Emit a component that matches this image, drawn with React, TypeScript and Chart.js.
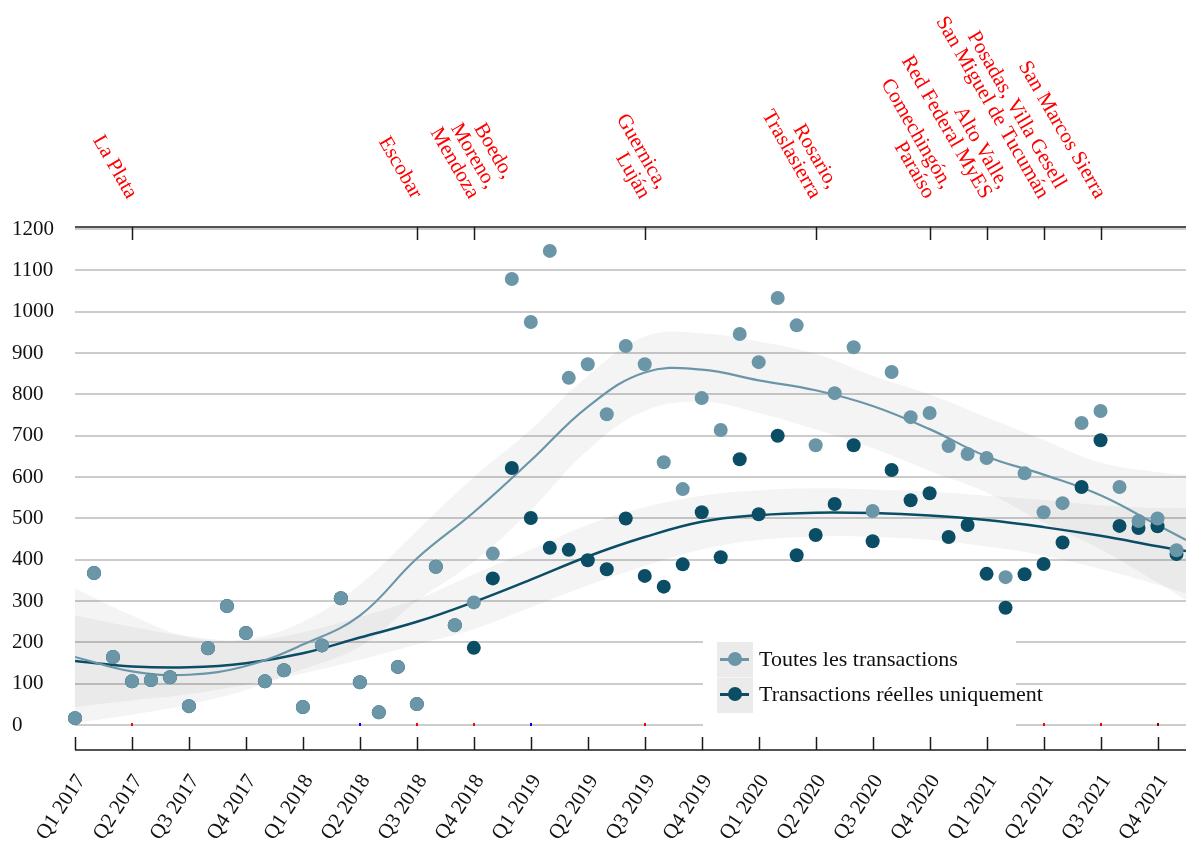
import React, { useEffect, useRef } from 'react';
import { Chart, registerables } from 'chart.js';

Chart.register(...registerables);

// Months shown (Jan 2017 .. Nov 2021); x position = index in this list
const monthLabels = [
  '2017-01', '2017-02', '2017-03', '2017-04', '2017-05', '2017-06', '2017-07', '2017-08', '2017-09', '2017-10', '2017-11', '2017-12',
  '2018-01', '2018-02', '2018-03', '2018-04', '2018-05', '2018-06', '2018-07', '2018-08', '2018-09', '2018-10', '2018-11', '2018-12',
  '2019-01', '2019-02', '2019-03', '2019-04', '2019-05', '2019-06', '2019-07', '2019-08', '2019-09', '2019-10', '2019-11', '2019-12',
  '2020-01', '2020-02', '2020-03', '2020-04', '2020-05', '2020-06', '2020-07', '2020-08', '2020-09', '2020-10', '2020-11', '2020-12',
  '2021-01', '2021-02', '2021-03', '2021-04', '2021-05', '2021-06', '2021-07', '2021-08', '2021-09', '2021-10', '2021-11',
];

const allTransactions = [
  17, 368, 165, 106, 109, 116, 46, 186, 288, 223, 106, 133,
  44, 193, 307, 104, 31, 141, 51, 383, 242, 297, 415, 1079,
  975, 1147, 840, 873, 752, 917, 873, 636, 571, 791, 714, 946,
  878, 1033, 967, 677, 803, 914, 518, 854, 745, 755, 675, 656,
  646, 358, 609, 515, 537, 731, 760, 576, 494, 500, 423,
];

const realTransactions = [
  17, 368, 165, 106, 109, 116, 46, 186, 288, 223, 106, 133,
  44, 193, 307, 104, 31, 141, 51, 383, 242, 187, 355, 622,
  501, 429, 424, 399, 377, 500, 361, 335, 389, 515, 406, 643,
  510, 700, 411, 460, 535, 677, 445, 617, 544, 561, 455, 484,
  366, 284, 365, 390, 442, 576, 689, 482, 477, 481, 414,
];

// Smoothed trend (LOESS-like), with confidence bands
const curveMonths = [0, 3, 6, 9, 12, 15, 18, 21, 24, 27, 30, 33, 36, 39, 42, 45, 48, 51, 54, 57, 58.5];
const allCurve = [165, 130, 122, 143, 195, 265, 403, 515, 640, 770, 853, 860, 834, 810, 772, 716, 650, 606, 556, 484, 448];
const allUpper = [331, 265, 213, 208, 250, 340, 470, 600, 715, 845, 940, 948, 928, 898, 845, 800, 745, 690, 635, 612, 605];
const allLower = [5, 25, 50, 85, 135, 190, 300, 395, 520, 665, 760, 782, 755, 715, 670, 615, 563, 490, 425, 345, 302];
const realCurve = [155, 142, 140, 150, 174, 212, 250, 298, 352, 408, 455, 492, 508, 514, 513, 507, 496, 479, 458, 433, 421];
const realUpper = [266, 238, 215, 205, 225, 262, 305, 365, 425, 485, 527, 555, 568, 573, 570, 565, 555, 545, 532, 525, 525];
const realLower = [44, 60, 75, 98, 125, 158, 195, 232, 285, 338, 385, 425, 448, 456, 455, 448, 432, 410, 378, 340, 318];

// Axis ticks
const quarterMonths = [0, 3, 6, 9, 12, 15, 18, 21, 24, 27, 30, 33, 36, 39, 42, 45, 48, 51, 54, 57];
const quarterLabels = [
  'Q1 2017', 'Q2 2017', 'Q3 2017', 'Q4 2017', 'Q1 2018', 'Q2 2018', 'Q3 2018', 'Q4 2018',
  'Q1 2019', 'Q2 2019', 'Q3 2019', 'Q4 2019', 'Q1 2020', 'Q2 2020', 'Q3 2020', 'Q4 2020',
  'Q1 2021', 'Q2 2021', 'Q3 2021', 'Q4 2021',
];
const yTicks = [0, 100, 200, 300, 400, 500, 600, 700, 800, 900, 1000, 1100, 1200];

// Event annotations along the top
const eventMonths = [3, 18, 21, 30, 39, 45, 48, 51, 54];
const eventLabels = [
  ['La Plata'],
  ['Escobar'],
  ['Boedo,', 'Moreno,', 'Mendoza'],
  ['Guernica,', 'Luján'],
  ['Rosario,', 'Traslasierra'],
  ['Comechingón,', 'Paraíso'],
  ['Alto Valle,', 'Red Federal MyES'],
  ['Posadas, Villa Gesell', 'San Miguel de Tucumán'],
  ['San Marcos Sierra'],
];

// Small markers on the zero line
const markerMonths = [3, 15, 18, 21, 24, 30, 39, 45, 48, 51, 54, 57];
const markerColors = ['#ff0000', '#0000ff', '#ff0000', '#ff0000', '#0000ff', '#ff0000', '#ff0000', '#ff0000', '#ff0000', '#ff0000', '#ff0000', '#990000'];

const LIGHT = '#6a96a8';
const DARK = '#0a4d64';
const BAND = 'rgba(0,0,0,0.045)';
const FONT = '"Liberation Serif", "Times New Roman", serif';

const decorPlugin = {
  id: 'decor',
  beforeDatasetsDraw(chart: any) {
    const { ctx, scales } = chart;
    const x = scales.x;
    const y = scales.y;
    const y0 = y.getPixelForValue(0);
    ctx.save();
    markerMonths.forEach((m, i) => {
      const px = Math.round(x.getPixelForValue(m));
      ctx.fillStyle = markerColors[i];
      ctx.fillRect(px - 1, Math.round(y0) - 2, 2, 3);
    });
    ctx.restore();
  },
  afterDraw(chart: any) {
    const { ctx, chartArea, scales } = chart;
    const x = scales.x;
    const top = chartArea.top;
    const bottom = chartArea.bottom;
    ctx.save();
    ctx.strokeStyle = '#1a1a1a';
    ctx.lineWidth = 1.5;
    // top axis
    ctx.beginPath();
    ctx.moveTo(chartArea.left, top - 2);
    ctx.lineTo(chartArea.right, top - 2);
    ctx.stroke();
    eventMonths.forEach((m) => {
      const px = Math.round(x.getPixelForValue(m)) + 0.5;
      ctx.beginPath();
      ctx.moveTo(px, top - 2);
      ctx.lineTo(px, top + 11);
      ctx.stroke();
    });
    // bottom axis
    ctx.beginPath();
    ctx.moveTo(chartArea.left, bottom);
    ctx.lineTo(chartArea.right, bottom);
    ctx.stroke();
    quarterMonths.forEach((m) => {
      const px = Math.round(x.getPixelForValue(m)) + 0.5;
      ctx.beginPath();
      ctx.moveTo(px, bottom - 13);
      ctx.lineTo(px, bottom);
      ctx.stroke();
    });
    // annotations
    ctx.fillStyle = '#ff0000';
    ctx.font = `21px ${FONT}`;
    ctx.textAlign = 'right';
    ctx.textBaseline = 'middle';
    const lineH = 20;
    eventMonths.forEach((m, i) => {
      const px = x.getPixelForValue(m);
      const lines = eventLabels[i];
      ctx.save();
      ctx.translate(px + 0, 197);
      ctx.rotate((60 * Math.PI) / 180);
      const n = lines.length;
      lines.forEach((ln, k) => {
        ctx.fillText(ln, 0, -(n - 1 - k) * lineH);
      });
      ctx.restore();
    });
    ctx.restore();
  },
};

function pts(xs: number[], ys: number[]) {
  return xs.map((v, i) => ({ x: v, y: ys[i] }));
}

export default function App() {
  const canvasRef = useRef<HTMLCanvasElement | null>(null);

  useEffect(() => {
    document.body.style.margin = '0';
    document.body.style.overflow = 'hidden';
    const canvas = canvasRef.current;
    if (!canvas) return;
    const monthIdx = monthLabels.map((_, i) => i);
    const chart = new Chart(canvas, {
      type: 'line',
      data: {
        datasets: [
          {
            label: 'Toutes les transactions',
            type: 'scatter',
            data: pts(monthIdx, allTransactions),
            backgroundColor: LIGHT,
            borderColor: LIGHT,
            pointRadius: 7,
            pointBorderWidth: 0,
            showLine: false,
            clip: false,
            order: 0,
          } as any,
          {
            label: 'Transactions réelles uniquement',
            type: 'scatter',
            data: pts(monthIdx, realTransactions),
            backgroundColor: DARK,
            borderColor: DARK,
            pointRadius: 7,
            pointBorderWidth: 0,
            showLine: false,
            clip: false,
            order: 1,
          } as any,
          {
            label: 'allCurve',
            data: pts(curveMonths, allCurve),
            borderColor: LIGHT,
            borderWidth: 2.2,
            pointRadius: 0,
            tension: 0.4,
            fill: false,
            order: 2,
          },
          {
            label: 'realCurve',
            data: pts(curveMonths, realCurve),
            borderColor: DARK,
            borderWidth: 2.5,
            pointRadius: 0,
            tension: 0.4,
            fill: false,
            order: 3,
          },
          {
            label: 'allUpper',
            data: pts(curveMonths, allUpper),
            borderWidth: 0,
            borderColor: 'rgba(0,0,0,0)',
            backgroundColor: BAND,
            pointRadius: 0,
            tension: 0.4,
            fill: '+1',
            order: 4,
          },
          {
            label: 'allLower',
            data: pts(curveMonths, allLower),
            borderWidth: 0,
            borderColor: 'rgba(0,0,0,0)',
            pointRadius: 0,
            tension: 0.4,
            fill: false,
            order: 5,
          },
          {
            label: 'realUpper',
            data: pts(curveMonths, realUpper),
            borderWidth: 0,
            borderColor: 'rgba(0,0,0,0)',
            backgroundColor: BAND,
            pointRadius: 0,
            tension: 0.4,
            fill: '+1',
            order: 6,
          },
          {
            label: 'realLower',
            data: pts(curveMonths, realLower),
            borderWidth: 0,
            borderColor: 'rgba(0,0,0,0)',
            pointRadius: 0,
            tension: 0.4,
            fill: false,
            order: 7,
          },
        ],
      },
      options: {
        animation: false,
        responsive: false,
        devicePixelRatio: 1,
        events: [],
        layout: { autoPadding: false, padding: { top: 229, left: 12, right: 0, bottom: 0 } },
        plugins: {
          legend: { display: false },
          tooltip: { enabled: false },
          title: { display: false },
        },
        scales: {
          x: {
            type: 'linear',
            min: 0,
            max: 58.5,
            grid: { display: false, drawTicks: false },
            border: { display: false },
            afterBuildTicks: (scale: any) => {
              scale.ticks = quarterMonths.map((v) => ({ value: v }));
            },
            afterFit: (scale: any) => {
              scale.height = 95;
              scale.paddingLeft = 0;
              scale.paddingRight = 0;
            },
            ticks: {
              autoSkip: false,
              minRotation: 57,
              maxRotation: 57,
              padding: 20,
              labelOffset: 6,
              color: '#111',
              font: { family: FONT, size: 21 },
              callback: (_v: any, i: number) => quarterLabels[i],
            },
          },
          y: {
            type: 'linear',
            min: -60,
            max: 1200,
            grid: { color: '#cccccc', lineWidth: 2, drawTicks: false },
            border: { display: false },
            afterBuildTicks: (scale: any) => {
              scale.ticks = yTicks.map((v) => ({ value: v }));
            },
            afterFit: (scale: any) => {
              scale.width = 63;
            },
            ticks: {
              crossAlign: 'far',
              padding: 0,
              color: '#111',
              font: { family: FONT, size: 21 },
              callback: (v: any) => String(v),
            },
          },
        },
      },
      plugins: [decorPlugin],
    } as any);
    return () => chart.destroy();
  }, []);

  const keyStyle = (color: string, top: number): React.CSSProperties => ({
    position: 'absolute',
    left: 17,
    top,
    width: 29,
    height: 3,
    background: color,
  });
  const dotStyle = (color: string, top: number): React.CSSProperties => ({
    position: 'absolute',
    left: 24.5,
    top,
    width: 14,
    height: 14,
    borderRadius: '50%',
    background: color,
  });
  const textStyle = (top: number): React.CSSProperties => ({
    position: 'absolute',
    left: 56,
    top,
    fontFamily: FONT,
    fontSize: 22,
    lineHeight: '24px',
    color: '#111',
    whiteSpace: 'nowrap',
  });

  return (
    <div style={{ position: 'relative', width: 1186, height: 845, overflow: 'hidden' }}>
      <canvas ref={canvasRef} width={1186} height={845} style={{ display: 'block' }} />
      <div style={{ position: 'absolute', left: 703, top: 633, width: 313, height: 97, background: '#fff' }}>
        <div style={{ position: 'absolute', left: 14, top: 9, width: 36, height: 71, background: '#ebebeb' }} />
        <div style={{ position: 'absolute', left: 14, top: 44, width: 36, height: 1, background: '#f6f6f6' }} />
        <div style={keyStyle(LIGHT, 24.5)} />
        <div style={dotStyle(LIGHT, 19)} />
        <div style={keyStyle(DARK, 59.5)} />
        <div style={dotStyle(DARK, 54)} />
        <div style={textStyle(14)}>Toutes les transactions</div>
        <div style={textStyle(49)}>Transactions réelles uniquement</div>
      </div>
    </div>
  );
}
